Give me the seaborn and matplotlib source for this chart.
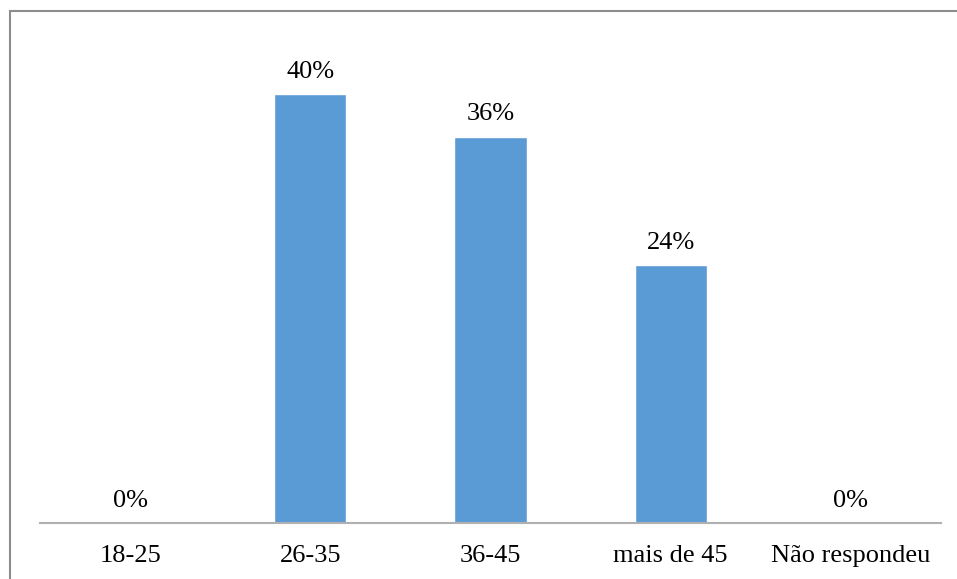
import matplotlib
matplotlib.use("Agg")
import matplotlib.pyplot as plt
from matplotlib.patches import Rectangle
import seaborn as sns
import pandas as pd

categories = ["18-25", "26-35", "36-45", "mais de 45", "Não respondeu"]
values = [0, 40, 36, 24, 0]

sns.set_style("white")
plt.rcParams["font.family"] = ["Liberation Serif", "DejaVu Serif"]

df = pd.DataFrame({"faixa": categories, "pct": values})

fig = plt.figure(figsize=(9.57, 5.79), dpi=100)
ax = fig.add_axes([40 / 957, 56 / 579, 901 / 957, 483 / 579])

sns.barplot(data=df, x="faixa", y="pct", color="#5B9BD5", width=0.4,
            saturation=1, ax=ax)

ax.set_ylim(0, 45)
ax.set_xlim(-0.5, len(categories) - 0.5)
ax.set_yticks([])
ax.set_xlabel("")
ax.set_ylabel("")
ax.tick_params(axis="x", length=0, labelsize=19, pad=16, colors="#000000")
for lab in ax.get_xticklabels():
    lab.set_fontfamily(["Liberation Serif", "DejaVu Serif"])

for s in ["top", "left", "right"]:
    ax.spines[s].set_visible(False)
ax.spines["bottom"].set_color("#B0B0B0")
ax.spines["bottom"].set_linewidth(1.5)

for i, v in enumerate(values):
    ax.annotate(f"{v}%", (i, v), xytext=(0, 8), textcoords="offset points",
                ha="center", va="bottom", fontsize=19, color="#000000")

# outer frame around the chart area
fig.patches.append(Rectangle((10 / 957, -0.1), 1.2, (579 - 11) / 579 + 0.1,
                             transform=fig.transFigure, fill=False,
                             edgecolor="#8C8C8C", linewidth=1.5))

fig.savefig("out.png", dpi=100)
